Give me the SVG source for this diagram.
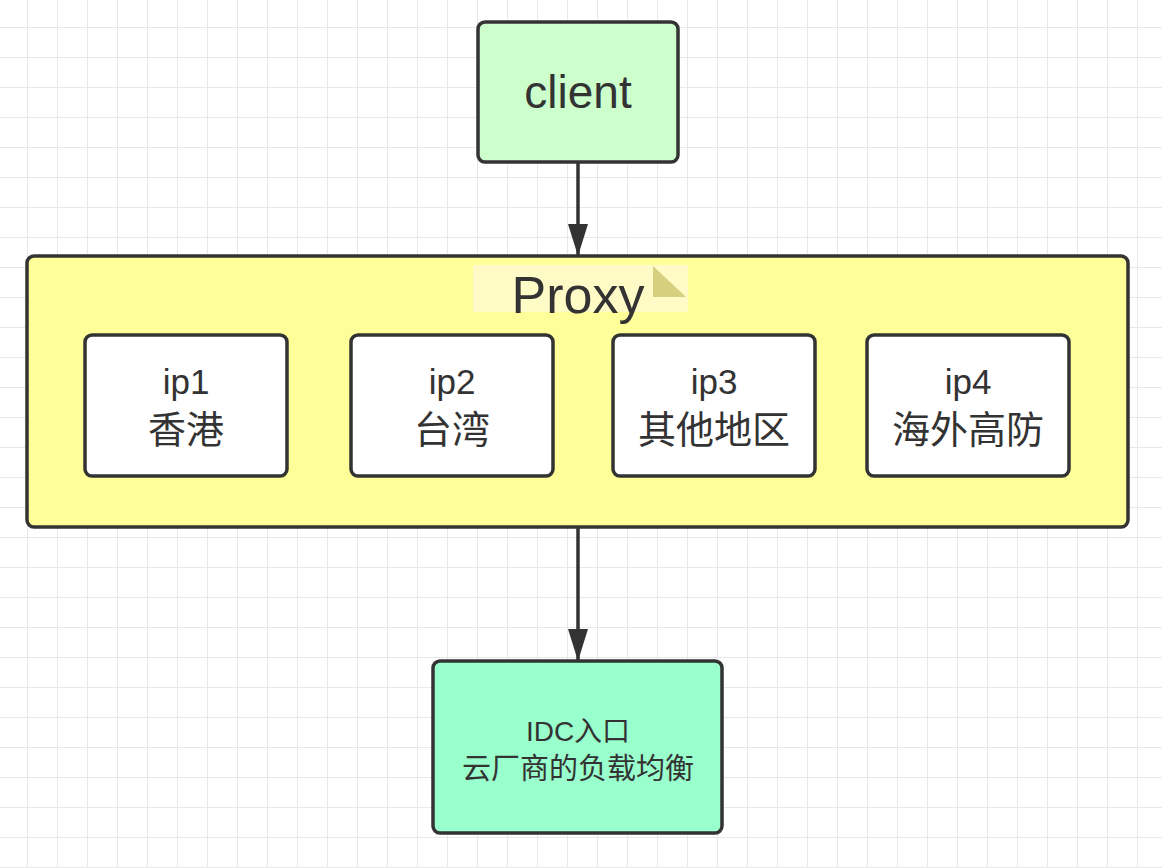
<svg xmlns="http://www.w3.org/2000/svg" width="1162" height="868" viewBox="0 0 1162 868">
<defs>
<pattern id="grid" x="27" y="27" width="30" height="30" patternUnits="userSpaceOnUse">
<path d="M0 0V30M0 0H30" fill="none" stroke="#e8e8e8" stroke-width="2"/>
</pattern>
<marker id="arr" viewBox="0 0 32 20" refX="32" refY="10" markerWidth="32" markerHeight="20" markerUnits="userSpaceOnUse" orient="auto">
<path d="M0 0L32 10L0 20Z" fill="#333"/>
</marker>
<style>
.box{stroke:#333;stroke-width:3.5}
.t{font-family:"Liberation Sans","Noto Sans CJK SC",sans-serif;fill:#333;text-anchor:middle}
.edge{stroke:#333;stroke-width:3.5;fill:none}
</style>
</defs>
<rect width="1162" height="868" fill="#fff"/>
<rect width="1162" height="868" fill="url(#grid)"/>
<g id="connectors">
<line class="edge" x1="578" y1="162" x2="578" y2="256" marker-end="url(#arr)"/>
<line class="edge" x1="578" y1="527" x2="578" y2="661" marker-end="url(#arr)"/>
</g>
<g id="client">
<rect class="box" x="478" y="22" width="200" height="140" rx="7" fill="#ccffcc"/>
<text class="t" x="578" y="108" font-size="46">client</text>
</g>
<g id="proxy">
<rect class="box" x="27" y="256" width="1101" height="271" rx="7" fill="#ffff99"/>
<rect x="473" y="265" width="215" height="47" fill="#fffbc6"/>
<path d="M653 266L653 297L686 297Z" fill="#d6cf7e"/>
<text class="t" x="578" y="313" font-size="52">Proxy</text>
</g>
<g id="ip1">
<rect class="box" x="85" y="335" width="202" height="141" rx="7" fill="#fff"/>
<text class="t" x="186" y="394" font-size="35">ip1</text>
<text class="t" x="186" y="443" font-size="38">香港</text>
</g>
<g id="ip2">
<rect class="box" x="351" y="335" width="202" height="141" rx="7" fill="#fff"/>
<text class="t" x="452" y="394" font-size="35">ip2</text>
<text class="t" x="452" y="443" font-size="38">台湾</text>
</g>
<g id="ip3">
<rect class="box" x="613" y="335" width="202" height="141" rx="7" fill="#fff"/>
<text class="t" x="714" y="394" font-size="35">ip3</text>
<text class="t" x="714" y="443" font-size="38">其他地区</text>
</g>
<g id="ip4">
<rect class="box" x="867" y="335" width="202" height="141" rx="7" fill="#fff"/>
<text class="t" x="968" y="394" font-size="35">ip4</text>
<text class="t" x="968" y="443" font-size="38">海外高防</text>
</g>
<g id="idc">
<rect class="box" x="433" y="661" width="289" height="172" rx="7" fill="#99ffcc"/>
<text class="t" x="578" y="741" font-size="28">IDC入口</text>
<text class="t" x="578" y="779" font-size="29">云厂商的负载均衡</text>
</g>
</svg>
